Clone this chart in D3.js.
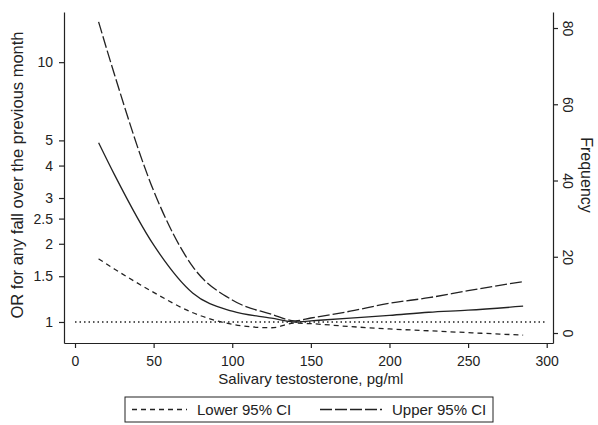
<!DOCTYPE html>
<html>
<head>
  <meta charset="utf-8" />
  <title>OR by salivary testosterone</title>
  <script src="https://d3js.org/d3.v7.min.js"></script>
  <style>
    body { margin: 0; background: #fff; }
    svg { display: block; font-family: "Liberation Sans", Arial, sans-serif; }
    .axis path, .axis line { stroke: #222; stroke-width: 1.2; }
    .axis text { fill: #222; font-size: 14px; font-family: "Liberation Sans", Arial, sans-serif; }
  </style>
</head>
<body>
  <svg width="598" height="425"></svg>
  <script>
    // data
    const testosterone = [15, 25, 50, 75, 100, 125, 140, 150, 175, 200, 225, 250, 285];
    const orEstimate   = [4.9, 3.7, 1.98, 1.29, 1.10, 1.035, 1.0, 1.01, 1.035, 1.06, 1.09, 1.11, 1.15];
    const lowerCI      = [1.75, 1.6, 1.30, 1.085, 0.98, 0.95, 0.99, 0.985, 0.96, 0.94, 0.925, 0.91, 0.89];
    const upperCI      = [14.3, 9.0, 3.2, 1.63, 1.215, 1.07, 1.01, 1.036, 1.10, 1.18, 1.24, 1.32, 1.43];
    const xTicks = [0, 50, 100, 150, 200, 250, 300];
    const yTicks = [1, 1.5, 2, 2.5, 3, 4, 5, 10];
    const freqTicks = [0, 20, 40, 60, 80];

    const svg = d3.select("svg");
    const plotLeft = 64, plotRight = 553, plotTop = 12, plotBottom = 343;

    const x = d3.scaleLinear().domain([-7, 304]).range([plotLeft, plotRight]);
    const y = d3.scaleLog().domain([0.83, 15.6]).range([plotBottom, plotTop]);
    const yFreq = d3.scaleLinear().domain([-2.62, 84.2]).range([plotBottom, plotTop]);

    // axes
    svg.append("g").attr("class", "axis")
      .attr("transform", `translate(0,${plotBottom})`)
      .call(d3.axisBottom(x).tickValues(xTicks).tickSize(5).tickSizeOuter(0).tickPadding(8));

    svg.append("g").attr("class", "axis")
      .attr("transform", `translate(${plotLeft},0)`)
      .call(d3.axisLeft(y).tickValues(yTicks).tickSize(5).tickSizeOuter(0).tickPadding(6)
        .tickFormat(d3.format("")));

    const rAxis = svg.append("g").attr("class", "axis")
      .attr("transform", `translate(${plotRight},0)`)
      .call(d3.axisRight(yFreq).tickValues(freqTicks).tickSize(5).tickSizeOuter(0));
    rAxis.selectAll("text")
      .attr("x", 0).attr("dy", 0)
      .attr("transform", "translate(10,0) rotate(90)")
      .attr("text-anchor", "middle");

    // axis titles
    svg.append("text")
      .attr("transform", `translate(23,175) rotate(-90)`)
      .attr("text-anchor", "middle")
      .style("font-size", "16.5px").attr("fill", "#222")
      .text("OR for any fall over the previous month");

    svg.append("text")
      .attr("transform", `translate(581,175) rotate(90)`)
      .attr("text-anchor", "middle")
      .style("font-size", "16px").attr("fill", "#222")
      .text("Frequency");

    svg.append("text")
      .attr("x", (x(0) + x(300)) / 2).attr("y", 384)
      .attr("text-anchor", "middle")
      .style("font-size", "15px").attr("fill", "#222")
      .text("Salivary testosterone, pg/ml");

    // reference line at OR = 1
    svg.append("line")
      .attr("x1", x(0)).attr("x2", x(300))
      .attr("y1", y(1)).attr("y2", y(1))
      .attr("stroke", "#222").attr("stroke-width", 1.6)
      .attr("stroke-dasharray", "1.5,3");

    const line = d3.line()
      .x(d => x(d[0]))
      .y(d => y(d[1]))
      .curve(d3.curveMonotoneX);

    const series = [
      { values: upperCI, dash: "12,3" },
      { values: orEstimate, dash: null },
      { values: lowerCI, dash: "5,4" }
    ];

    svg.selectAll(".series").data(series).enter().append("path")
      .attr("class", "series")
      .attr("fill", "none")
      .attr("stroke", "#222")
      .attr("stroke-width", 1.3)
      .attr("stroke-dasharray", d => d.dash)
      .attr("d", d => line(testosterone.map((t, i) => [t, d.values[i]])));

    // legend
    const legend = svg.append("g").attr("transform", "translate(125,397)");
    legend.append("rect")
      .attr("width", 368).attr("height", 25)
      .attr("fill", "#fff").attr("stroke", "#222").attr("stroke-width", 1);

    const items = [
      { label: "Lower 95% CI", dash: "5,4", x: 7, len: 55 },
      { label: "Upper 95% CI", dash: "12,3", x: 195, len: 62 }
    ];
    items.forEach(it => {
      legend.append("line")
        .attr("x1", it.x).attr("x2", it.x + it.len)
        .attr("y1", 12.5).attr("y2", 12.5)
        .attr("stroke", "#222").attr("stroke-width", 1.3)
        .attr("stroke-dasharray", it.dash);
      legend.append("text")
        .attr("x", it.x + it.len + 10).attr("y", 18)
        .style("font-size", "15px").attr("fill", "#222")
        .text(it.label);
    });
  </script>
</body>
</html>
